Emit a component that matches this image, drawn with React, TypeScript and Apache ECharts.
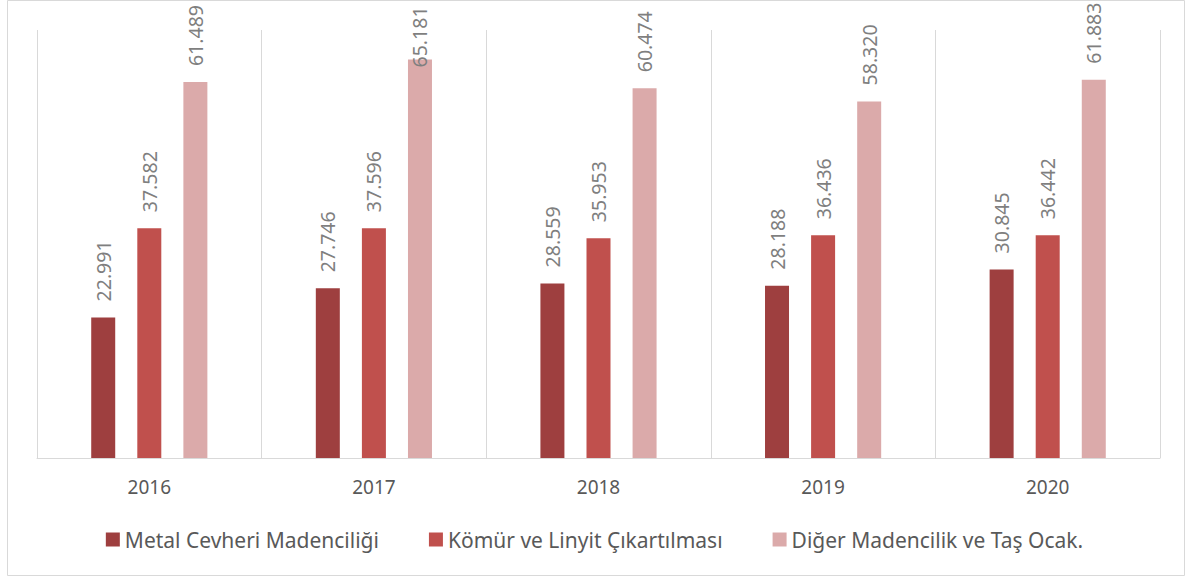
import React, { useEffect, useRef } from "react";
import * as echarts from "echarts";

const years = ["2016", "2017", "2018", "2019", "2020"];
const seriesNames = [
  "Metal Cevheri Madenciliği",
  "Kömür ve Linyit Çıkartılması",
  "Diğer Madencilik ve Taş Ocak.",
];
const metal = [22.991, 27.746, 28.559, 28.188, 30.845];
const komur = [37.582, 37.596, 35.953, 36.436, 36.442];
const diger = [61.489, 65.181, 60.474, 58.32, 61.883];
const colors = ["#9E3F3F", "#C0504D", "#DBAAAA"];

const FONT = "'Noto Sans', 'Open Sans', sans-serif";

export default function App() {
  const ref = useRef<HTMLDivElement>(null);
  useEffect(() => {
    if (!ref.current) return;
    const chart = echarts.init(ref.current, undefined, { renderer: "svg" });
    const fmt = (p: any) => Number(p.value).toFixed(3);
    const baseLabel = {
      show: true,
      position: "top",
      rotate: 90,
      align: "left",
      verticalAlign: "middle",
      distance: 16,
      color: "#7F7F7F",
      fontSize: 19.5,
      fontFamily: FONT,
      formatter: fmt,
    };
    const mk = (name: string, vals: number[], color: string) => ({
      name,
      type: "bar",
      barWidth: 24,
      barGap: "92%",
      itemStyle: { color },
      label: baseLabel,
      data: vals.map((v) =>
        v > 63
          ? { value: v, label: { position: "insideTop", distance: 8 } }
          : v
      ),
    });
    chart.setOption({
      animation: false,
      textStyle: { fontFamily: FONT },
      graphic: [
        {
          type: "rect",
          shape: { x: 7.5, y: 0.5, width: 1177, height: 575 },
          style: { fill: "none", stroke: "#D9D9D9", lineWidth: 1 },
          silent: true,
        },
      ],
      grid: { left: 37, right: 29, top: 30, bottom: 119 },
      legend: {
        top: 524,
        left: "center",
        itemWidth: 14,
        itemHeight: 14,
        itemGap: 50,
        icon: "rect",
        textStyle: { color: "#595959", fontSize: 21, fontFamily: FONT },
        data: seriesNames,
      },
      xAxis: {
        type: "category",
        data: years,
        axisLine: { lineStyle: { color: "#D9D9D9", width: 1 } },
        axisTick: { show: false },
        splitLine: { show: true, interval: 0, lineStyle: { color: "#D9D9D9" } },
        axisLabel: {
          color: "#595959",
          fontSize: 19,
          margin: 19,
          fontFamily: FONT,
        },
      },
      yAxis: {
        type: "value",
        min: 0,
        max: 70,
        show: false,
        splitLine: { show: false },
      },
      series: [
        mk(seriesNames[0], metal, colors[0]),
        mk(seriesNames[1], komur, colors[1]),
        mk(seriesNames[2], diger, colors[2]),
      ],
    });
    return () => chart.dispose();
  }, []);
  return (
    <div
      ref={ref}
      style={{ position: "fixed", left: 0, top: 0, width: 1189, height: 577, background: "#fff" }}
    />
  );
}
